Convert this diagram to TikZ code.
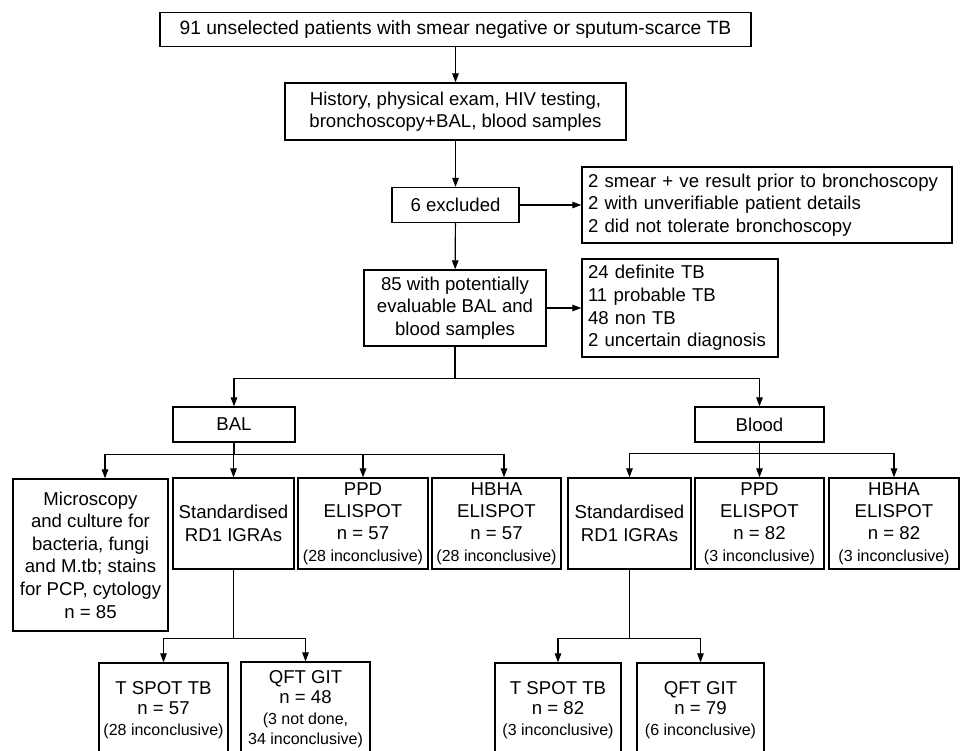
\documentclass[tikz,border=0pt]{standalone}
\usepackage{fontspec}
\setmainfont{Liberation Sans}
\usetikzlibrary{arrows.meta}
\newcommand{\sm}[1]{{\fontsize{16}{20.5}\selectfont #1}}

\begin{document}
\begin{tikzpicture}[
	x=1pt,
	y=-1pt,
	box/.style={
		draw,
		line width=1.3pt,
		align=center,
		inner sep=0pt,
		font=\fontsize{18.6}{22.6}\selectfont,
	},
	tight/.style={
		box,
		font=\fontsize{18.6}{20.5}\selectfont,
	},
	list/.style={
		box,
		align=left,
		inner xsep=6pt,
	},
	arr/.style={
		line width=1.2pt,
		-{Triangle[length=9pt,width=6.5pt]},
	},
	lin/.style={
		line width=1.2pt,
	}
]
\clip (0,0) rectangle (966,750);

\node[box, font=\fontsize{19.2}{22.6}\selectfont, minimum width=591pt, minimum height=34pt] (all) at (455.5,29.5)
	{91 unselected patients with smear negative or sputum-scarce TB};
\node[box, minimum width=341pt, minimum height=57pt] (hist) at (455.5,111.5)
	{History, physical exam, HIV testing,\\bronchoscopy+BAL, blood samples};
\node[box, minimum width=127pt, minimum height=35pt] (excl) at (455.5,205)
	{6 excluded};
\node[list, text width=358pt, minimum height=76pt] (why) at (767,205)
	{2 smear + ve result prior to bronchoscopy\\2 with unverifiable patient details\\2 did not tolerate bronchoscopy};
\node[box, minimum width=182pt, minimum height=76pt] (eval) at (455,308)
	{85 with potentially\\evaluable BAL and\\blood samples};
\node[list, text width=184pt, minimum height=98pt] (diag) at (680,308)
	{24 definite TB\\11 probable TB\\48 non TB\\2 uncertain diagnosis};

\node[box, minimum width=122pt, minimum height=35pt] (bal) at (234,424.5) {BAL};
\node[box, minimum width=129pt, minimum height=35pt] (blood) at (759.5,424.5) {Blood};

\node[box, minimum width=155pt, minimum height=152pt] (micro) at (90.5,555)
	{Microscopy\\and culture for\\bacteria, fungi\\and M.tb; stains\\for PCP, cytology\\n = 85};
\node[box, minimum width=121pt, minimum height=91pt] (stdb) at (233.5,523.5)
	{Standardised\\RD1 IGRAs};
\node[box, minimum width=130pt, minimum height=91pt] (ppdb) at (363,523.5)
	{PPD\\ELISPOT\\[-1pt]n = 57\\[-1pt]\sm{(28 inconclusive)}};
\node[box, minimum width=129pt, minimum height=91pt] (hbhab) at (496.5,523.5)
	{HBHA\\ELISPOT\\[-1pt]n = 57\\[-1pt]\sm{(28 inconclusive)}};
\node[box, minimum width=123pt, minimum height=91pt] (stdl) at (629.5,523.5)
	{Standardised\\RD1 IGRAs};
\node[box, minimum width=129pt, minimum height=91pt] (ppdl) at (759.5,523.5)
	{PPD\\ELISPOT\\[-1pt]n = 82\\[-1pt]\sm{(3 inconclusive)}};
\node[box, minimum width=130pt, minimum height=91pt] (hbhal) at (894,523.5)
	{HBHA\\ELISPOT\\[-1pt]n = 82\\[-1pt]\sm{(3 inconclusive)}};

\node[tight, minimum width=129pt, minimum height=94pt] (tspb) at (163.5,710)
	{T SPOT TB\\n = 57\\\sm{(28 inconclusive)}};
\node[tight, minimum width=129pt, minimum height=94pt] (qftb) at (305.5,709)
	{QFT GIT\\n = 48\\\sm{(3 not done,}\\\sm{34 inconclusive)}};
\node[tight, minimum width=126pt, minimum height=94pt] (tspl) at (558,710)
	{T SPOT TB\\n = 82\\\sm{(3 inconclusive)}};
\node[tight, minimum width=127pt, minimum height=94pt] (qftl) at (700.5,710)
	{QFT GIT\\n = 79\\\sm{(6 inconclusive)}};

\draw[arr] (all) -- (hist);
\draw[arr] (hist) -- (excl);
\draw[arr] (excl) -- (why);
\draw[arr] (excl) -- (eval);
\draw[arr] (eval) -- (diag);

\draw[lin] (eval.south) -- ++(0,32) coordinate (ej);
\draw[arr] (ej) -| (bal);
\draw[arr] (ej) -| (blood);

\draw[lin] (bal.south) -- ++(0,12) coordinate (bj);
\draw[arr] (bj) -| ([xshift=14.5pt]micro.north);
\draw[arr] (bj) -| (stdb);
\draw[arr] (bj) -| (ppdb);
\draw[arr] (bj) -| ([xshift=7.5pt]hbhab.north);

\draw[lin] (blood.south) -- ++(0,11) coordinate (lj);
\draw[arr] (lj) -| (stdl);
\draw[arr] (lj) -| (ppdl);
\draw[arr] (lj) -| (hbhal);

\draw[lin] (stdb.south) -- ++(0,69) coordinate (sj);
\draw[arr] (sj) -| (tspb);
\draw[arr] (sj) -| (qftb.north);

\draw[lin] (stdl.south) -- ++(0,69) coordinate (tj);
\draw[arr] (tj) -| (tspl);
\draw[arr] (tj) -| (qftl);
\end{tikzpicture}
\end{document}
